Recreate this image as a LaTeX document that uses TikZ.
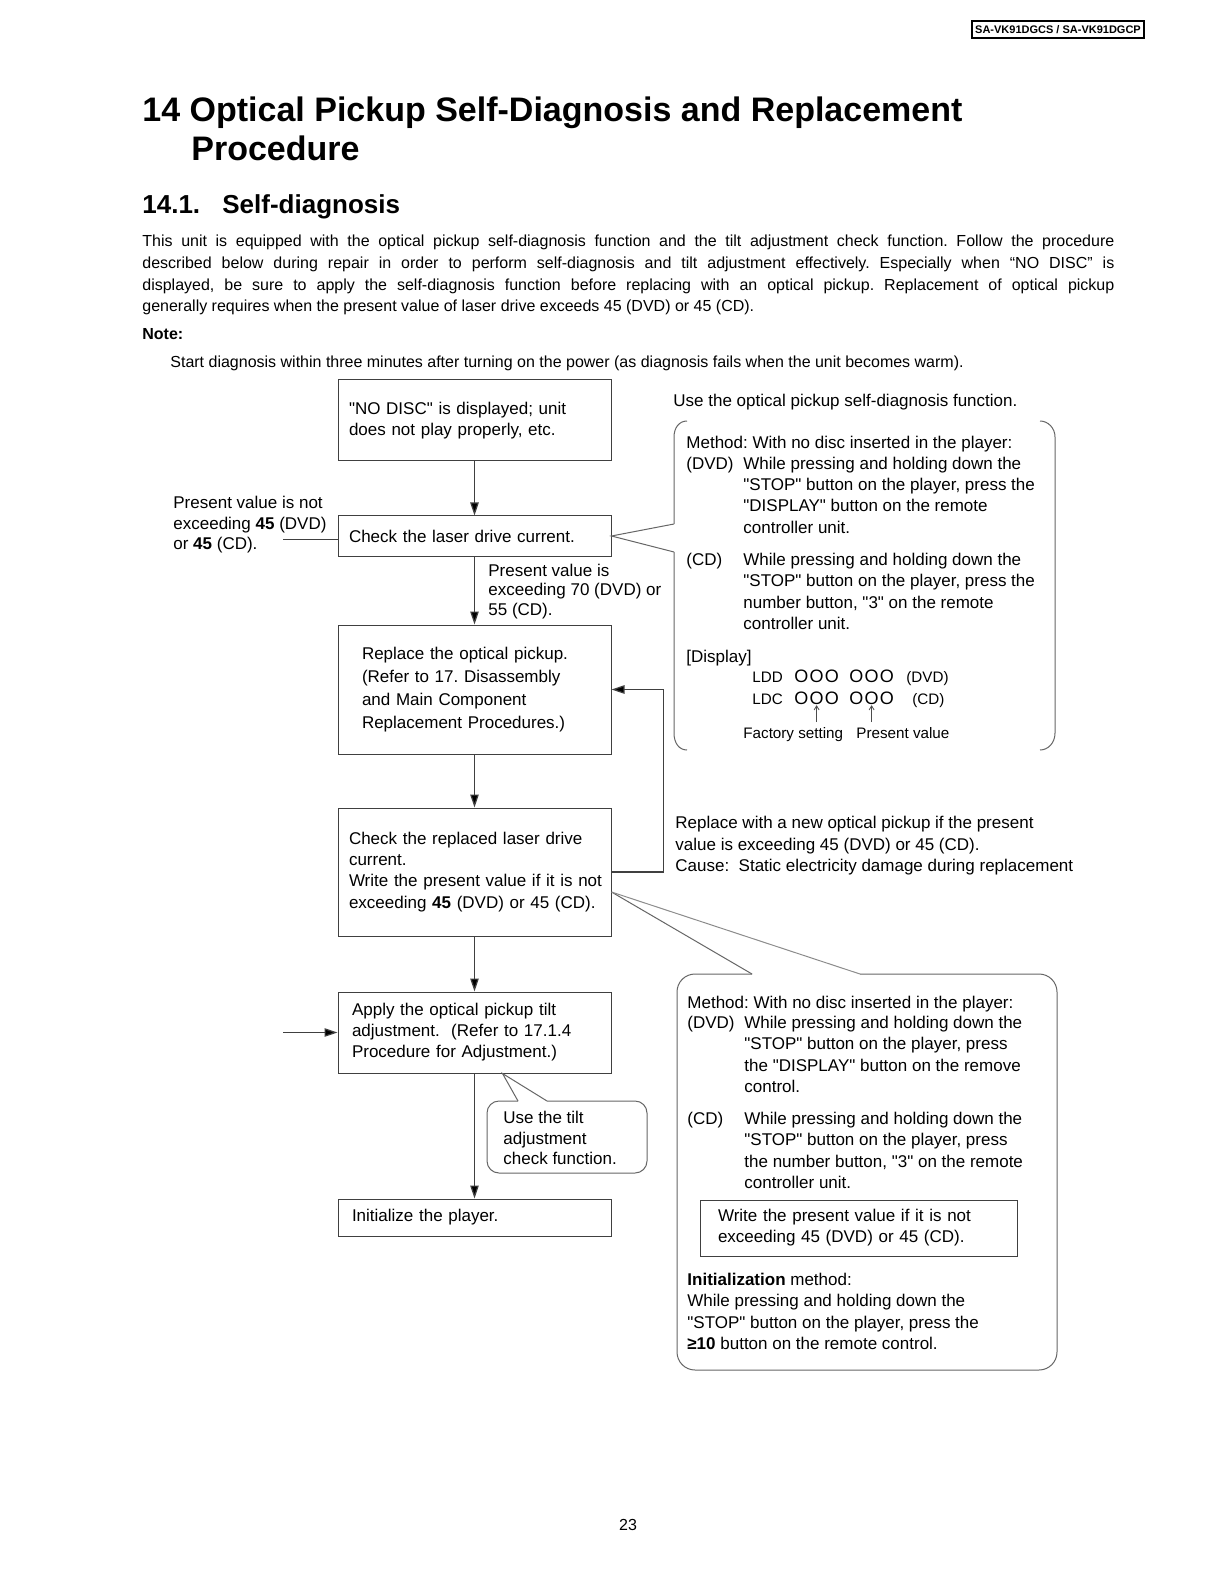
\documentclass[tikz,border=0pt]{standalone}
\usepackage{fontspec}
\setmainfont{Liberation Sans}[Ligatures=TeXOff]
\usepackage{tikz}
\usetikzlibrary{arrows.meta, positioning, calc}
\frenchspacing
\newcommand{\fcfont}{\fontsize{8.5}{10.6}\selectfont}
\newcommand{\smfont}{\fontsize{7.6}{9.5}\selectfont}
\newcommand{\bodyfont}{\fontsize{8}{10.9}\selectfont}
\newcommand{\ooo}{{\fontsize{9}{9}\selectfont O\hspace{0.6pt}O\hspace{0.6pt}O}}
\newcommand{\lines}[1]{\begin{tabular}[t]{@{}l@{}}#1\end{tabular}}
\tikzstyle{box} = [rectangle, draw=black!75, line width=0.5pt, text width=125.5pt, inner xsep=5.5pt, inner ysep=0pt, align=left, font=\fcfont]
\tikzstyle{txt} = [anchor=base west, inner sep=0pt, align=left, font=\fcfont, yshift=-0.8pt]
\tikzstyle{arrow} = [draw=black!75, line width=0.6pt, -{Triangle[length=6.5pt,width=4.2pt,fill=black]}]
\tikzstyle{line} = [draw=black!75, line width=0.5pt]
\tikzstyle{callout} = [draw=black!60, line width=0.5pt]
\tikzstyle{smallarrow} = [draw=black!70, line width=0.4pt, -{Straight Barb[length=2pt,width=2.5pt]}]

\begin{document}
\begin{tikzpicture}[x=0.5pt, y=-0.5pt]
    \useasboundingbox[fill=white] (0,0) rectangle (1219,1582);

    % page header and introduction
    \node (hdr) [draw, line width=0.6pt, minimum width=86pt, minimum height=8.5pt, inner sep=0pt, font=\fontsize{5.5}{6}\selectfont\bfseries] at (1058,29.5) {SA-VK91DGCS / SA-VK91DGCP};
    \node (title) [txt, font=\fontsize{17}{19}\selectfont\bfseries] at (142,120) {14 Optical Pickup Self-Diagnosis and Replacement};
    \node (title2) [txt, font=\fontsize{17}{19}\selectfont\bfseries] at (191,159) {Procedure};
    \node (secnum) [txt, font=\fontsize{13}{15}\selectfont\bfseries] at (142,212) {14.1.};
    \node (sectitle) [txt, font=\fontsize{13}{15}\selectfont\bfseries] at (222,212) {Self-diagnosis};
    \node (intro) [txt, font=\bodyfont] at (142,245) {\lines{\makebox[486pt][s]{This unit is equipped with the optical pickup self-diagnosis function and the tilt adjustment check function. Follow the procedure}\\
        \makebox[486pt][s]{described below during repair in order to perform self-diagnosis and tilt adjustment effectively. Especially when “NO DISC” is}\\
        \makebox[486pt][s]{displayed, be sure to apply the self-diagnosis function before replacing with an optical pickup. Replacement of optical pickup}\\
        generally requires when the present value of laser drive exceeds 45 (DVD) or 45 (CD).}};
    \node (note) [txt, font=\bodyfont\bfseries] at (142,338) {Note:};
    \node (start) [txt, font=\bodyfont] at (170,366) {Start diagnosis within three minutes after turning on the power (as diagnosis fails when the unit becomes warm).};

    % flow
    \node (nodisc) [box, minimum height=40.5pt] at (474.5,420.5) {\lines{"NO DISC" is displayed; unit\\does not play properly, etc.}};
    \node (chk) [box, minimum height=20pt] at (474.5,536) {Check the laser drive current.};
    \node (rep) [box, text width=112.5pt, inner xsep=12pt, minimum height=64.5pt, font=\fontsize{8.5}{11.5}\selectfont] at (474.5,689.5) {\lines{Replace the optical pickup.\\(Refer to 17. Disassembly\\and Main Component\\Replacement Procedures.)}};
    \node (chk2) [box, minimum height=64pt] at (474.5,872) {\lines{Check the replaced laser drive\\current.\\Write the present value if it is not\\exceeding \textbf{45} (DVD) or 45 (CD).}};
    \node (tilt) [box, text width=122.5pt, inner xsep=7pt, minimum height=40.5pt] at (474.5,1032.5) {\lines{Apply the optical pickup tilt\\adjustment.\ \ (Refer to 17.1.4\\Procedure for Adjustment.)}};
    \node (init) [box, text width=122.5pt, inner xsep=7pt, minimum height=18.5pt] at (474.5,1217.5) {Initialize the player.};

    \draw [arrow] (nodisc) -- (chk);
    \draw [arrow] (chk) -- (rep);
    \draw [arrow] (rep) -- (chk2);
    \draw [arrow] (chk2) -- (tilt);
    \draw [arrow] (tilt) -- (init);
    \draw [arrow] (chk2.east) -- ++(52,0) |- (rep.east);

    \node (notover) [txt, font=\fontsize{8.5}{10.3}\selectfont] at (173,507) {\lines{Present value is not\\exceeding \textbf{45} (DVD)\\or \textbf{45} (CD).}};
    \coordinate (notend) at (283,539);
    \draw [line] (notend) -- (notend -| chk.west);
    \node (over) [txt, font=\fontsize{8.5}{9.6}\selectfont] at (488,575) {\lines{Present value is\\exceeding 70 (DVD) or\\55 (CD).}};
    \coordinate (tiltin) at (283,1032.5);
    \draw [arrow] (tiltin) -- (tilt.west);

    % self-diagnosis callout
    \node (usediag) [txt] at (673,405) {Use the optical pickup self-diagnosis function.};
    \draw [callout] (674,524) -- (chk.east) -- (674,552);
    \draw [callout] (674,524) -- (674,437) .. controls (674,428) and (679,421) .. (687,421);
    \draw [callout] (674,552) -- (674,733) .. controls (674,743) and (679,750) .. (687,750);
    \draw [callout] (1040,421) .. controls (1048,421) and (1055,428) .. (1055,437) -- (1055,733) .. controls (1055,743) and (1048,750) .. (1040,750);
    \node (m1) [txt] at (686,447) {Method: With no disc inserted in the player:};
    \node (m1dvd) [txt] at (686,468) {(DVD)};
    \node (m1dvdt) [txt] at (743,468) {\lines{While pressing and holding down the\\"STOP" button on the player, press the\\"DISPLAY" button on the remote\\controller unit.}};
    \node (m1cd) [txt] at (686,564) {(CD)};
    \node (m1cdt) [txt] at (743,564) {\lines{While pressing and holding down the\\"STOP" button on the player, press the\\number button, "3" on the remote\\controller unit.}};
    \node (disp) [txt] at (686,661) {[Display]};
    \node (ldd) [txt, font=\smfont] at (752,681) {LDD};
    \node (ldd1) [txt, font=\smfont] at (794,681) {\ooo};
    \node (ldd2) [txt, font=\smfont] at (849,681) {\ooo};
    \node (lddt) [txt, font=\smfont] at (906,681) {(DVD)};
    \node (ldc) [txt, font=\smfont] at (752,703) {LDC};
    \node (ldc1) [txt, font=\smfont] at (794,703) {\ooo};
    \node (ldc2) [txt, font=\smfont] at (849,703) {\ooo};
    \node (ldct) [txt, font=\smfont] at (912,703) {(CD)};
    \node (fs) [txt, font=\smfont] at (743,737) {Factory setting};
    \node (pv) [txt, font=\smfont] at (856,737) {Present value};
    \draw [smallarrow] (ldc1.south |- 0,722) -- (ldc1.south);
    \draw [smallarrow] (ldc2.south |- 0,722) -- (ldc2.south);

    \node (newpick) [txt, font=\fontsize{8.5}{10.75}\selectfont] at (675,827) {\lines{Replace with a new optical pickup if the present\\value is exceeding 45 (DVD) or 45 (CD).\\Cause:\ \ Static electricity damage during replacement}};

    % check-and-initialize callout
    \coordinate (tipB) at ([yshift=-10pt]chk2.east);
    \draw [callout] (752,974) -- (tipB);
    \draw [callout, black!45] (tipB) -- (860,974);
    \draw [callout, rounded corners=9pt] (860,974) -- (1057,974) -- (1057,1370) -- (677,1370) -- (677,974) -- (752,974);
    \node (m2) [txt] at (687,1007) {Method: With no disc inserted in the player:};
    \node (m2dvd) [txt] at (687,1027) {(DVD)};
    \node (m2dvdt) [txt] at (744,1027) {\lines{While pressing and holding down the\\"STOP" button on the player, press\\the "DISPLAY" button on the remove\\control.}};
    \node (m2cd) [txt] at (687,1123) {(CD)};
    \node (m2cdt) [txt] at (744,1123) {\lines{While pressing and holding down the\\"STOP" button on the player, press\\the number button, "3" on the remote\\controller unit.}};
    \node (writeval) [box, text width=140.5pt, inner xsep=9pt, minimum height=28pt] at (858.5,1228) {\lines{Write the present value if it is not\\exceeding 45 (DVD) or 45 (CD).}};
    \node (initm) [txt] at (687,1284) {\lines{\textbf{Initialization} method:\\While pressing and holding down the\\"STOP" button on the player, press the\\\textbf{≥10} button on the remote control.}};

    % tilt check callout
    \coordinate (tipC) at ([xshift=14pt]tilt.south);
    \draw [callout] (518,1101) -- (tipC) -- (547,1101);
    \draw [callout, rounded corners=6pt] (547,1101) -- (647,1101) -- (647,1173) -- (487,1173) -- (487,1101) -- (518,1101);
    \node (usetilt) [txt, font=\fontsize{8.5}{10.3}\selectfont] at (503,1122) {\lines{Use the tilt\\adjustment\\check function.}};

    \node (pgno) [font=\bodyfont] at (628,1525) {23};
\end{tikzpicture}
\end{document}
